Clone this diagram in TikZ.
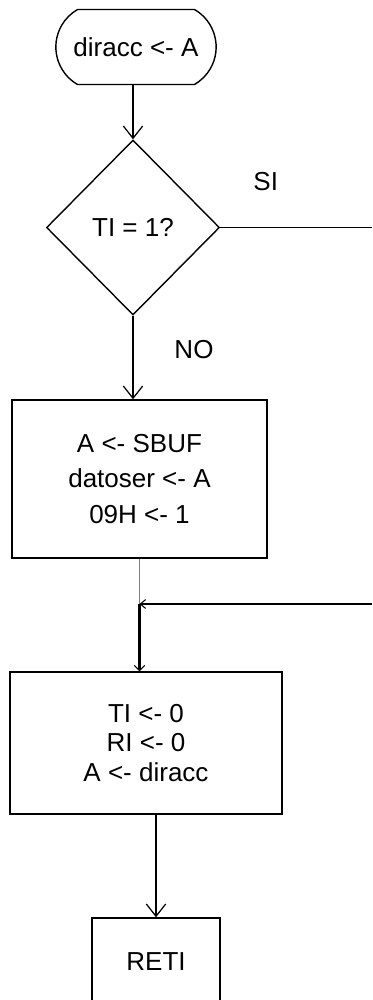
\documentclass[tikz,border=0pt]{standalone}
\usepackage{fontspec}
\setmainfont{Liberation Sans}
\usetikzlibrary{shapes.geometric,shapes.misc,arrows.meta,positioning}

\begin{document}
\begin{tikzpicture}
    [flow/.style={line width=0.7pt, -{Straight Barb[length=7pt, width=11pt, line width=0.7pt]}},
    node distance =3.6cm,
    line width=0.8pt,
    font=\fontsize{14.8}{20}\selectfont,
    terminal/.style={rounded rectangle, rounded rectangle arc length=120, draw, minimum width=3.44cm, minimum height=1.5cm},
    decision/.style={diamond, draw, inner sep=0pt, minimum width=3.46cm, minimum height=3.5cm},
    process/.style={rectangle, draw, align=center}]
    \useasboundingbox (0,0) rectangle (7.44,-20);
        %% Interrupcion serie
    \node[terminal] (ini) at (2.72,-0.94) {diracc <- A};
    \node[decision, node distance=3.61cm, below of = ini, xshift=-0.06cm] (TI) {TI = 1?};
    \node[process, node distance=5.03cm, below of = TI, xshift=0.13cm, minimum width=5.1cm, minimum height=3.16cm] (B1) {A <- SBUF\\datoser <- A\\09H <- 1};
    \coordinate[node distance=2.5cm, below of = B1] (J);
    \node[process, node distance=5.28cm, below of = B1, xshift=0.13cm, minimum width=5.44cm, minimum height=2.84cm, font=\fontsize{14.8}{17}\selectfont] (B2) {TI <- 0\\RI <- 0\\A <- diracc};
    \node[process, node distance=4.38cm, below of = B2, xshift=0.2cm, minimum width=2.56cm, minimum height=1.76cm] (R) {RETI};
    \coordinate (E) at (7.44,0);

        %% Conexiones
    \draw[flow] (ini.south -| TI) to (TI.north);
    \draw (TI.east) to node[above=0.6cm, pos=0.3] {SI} (TI.east -| E);
    \draw[flow] (TI.south) to node[right=0.7cm, pos=0.4] {NO} (TI.south |- B1.north);
    \draw[gray, line width=0.4pt] (B1.south) to (J);
    \draw[line width=0.6pt, -{Straight Barb[length=3pt, width=5pt]}] (J -| E) to (J);
    \draw[line width=1.2pt, -{Straight Barb[length=3pt, width=6pt, line width=0.6pt]}] (J) to (J |- B2.north);
    \draw[flow] (B2.south -| R) to (R.north);
\end{tikzpicture}
\end{document}
